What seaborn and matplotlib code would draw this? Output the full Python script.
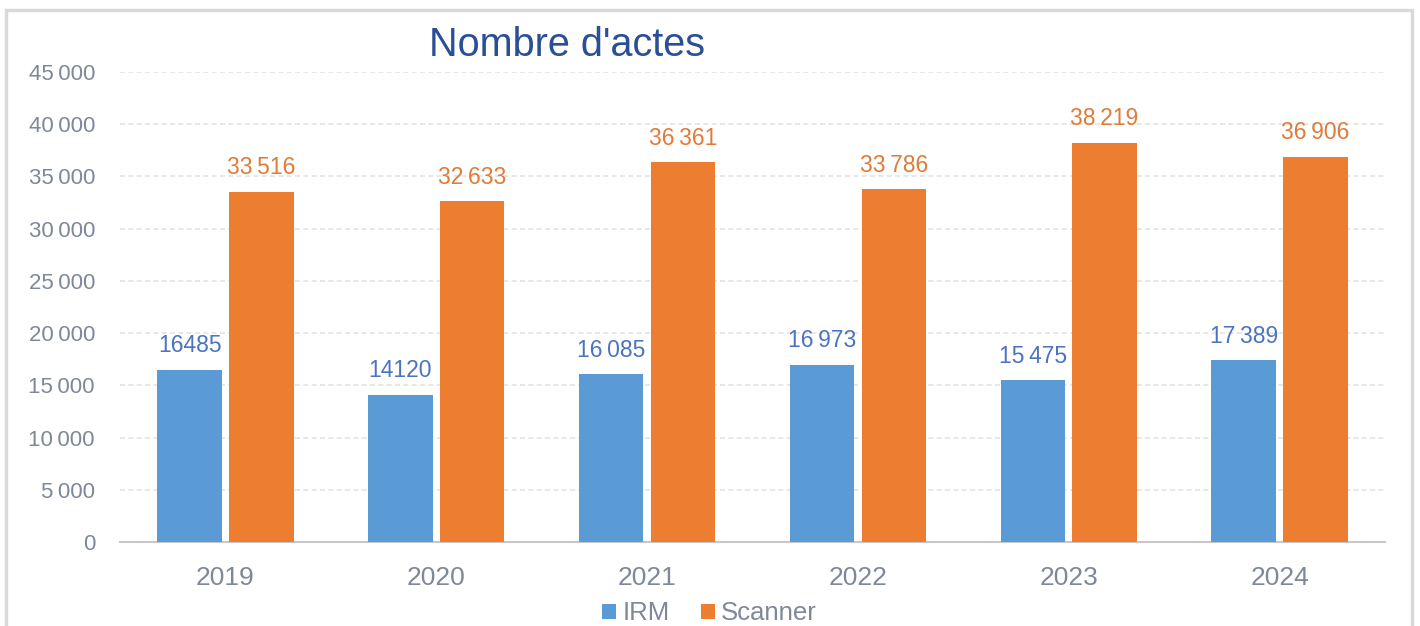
import pandas as pd
import matplotlib.pyplot as plt
import seaborn as sns
from matplotlib.patches import Rectangle

years = ["2019", "2020", "2021", "2022", "2023", "2024"]
irm = [16485, 14120, 16085, 16973, 15475, 17389]
scanner = [33516, 32633, 36361, 33786, 38219, 36906]
irm_labels = ["16485", "14120", "16\u2009085", "16\u2009973", "15\u2009475", "17\u2009389"]
scanner_labels = ["33\u2009516", "32\u2009633", "36\u2009361", "33\u2009786", "38\u2009219", "36\u2009906"]
yticks = [0, 5000, 10000, 15000, 20000, 25000, 30000, 35000, 40000, 45000]
ytick_labels = ["0", "5\u2009000", "10\u2009000", "15\u2009000", "20\u2009000", "25\u2009000",
                "30\u2009000", "35\u2009000", "40\u2009000", "45\u2009000"]

df = pd.DataFrame({
    "annee": years * 2,
    "actes": irm + scanner,
    "type": ["IRM"] * len(years) + ["Scanner"] * len(years),
})

sns.set_theme(style="white")
plt.rcParams["font.family"] = ["Liberation Sans", "DejaVu Sans"]

blue = "#5b9bd5"
orange = "#ed7d31"
tick_col = "#7f8898"

fig = plt.figure(figsize=(14.2, 6.26), dpi=100)
fig.patches.append(Rectangle((6 / 1420, -0.01), 1406 / 1420, 1 - 10 / 626 + 0.01,
                             transform=fig.transFigure, fill=False,
                             edgecolor="#d9d9d9", linewidth=2.5))
ax = fig.add_axes([120 / 1420, 1 - 542 / 626, 1265 / 1420, 470 / 626])

sns.barplot(data=df, x="annee", y="actes", hue="type", palette=[blue, orange],
            saturation=1, width=0.68, gap=0.1, linewidth=0, ax=ax, legend=True, zorder=3)

ax.set_ylim(0, 45000)
ax.set_yticks(yticks)
ax.set_yticklabels(ytick_labels)
ax.yaxis.grid(True, linestyle=(0, (3, 2)), color="#e3e3e3", linewidth=1.2, zorder=0)
ax.set_xlabel("")
ax.set_ylabel("")
for s in ["top", "right", "left"]:
    ax.spines[s].set_visible(False)
ax.spines["bottom"].set_color("#c8c8c8")
ax.spines["bottom"].set_linewidth(1.5)
ax.tick_params(axis="y", labelsize=16, colors=tick_col, length=0, pad=18)
ax.tick_params(axis="x", labelsize=19, colors=tick_col, length=0, pad=17)

ax.bar_label(ax.containers[0], labels=irm_labels, padding=9, fontsize=16.5, color="#4a74c0")
ax.bar_label(ax.containers[1], labels=scanner_labels, padding=9, fontsize=16.5, color="#e07b39")

leg = ax.legend(loc="center", bbox_to_anchor=(0.466, -0.152), ncol=2, frameon=False,
                fontsize=18.5, handlelength=0.55, handleheight=0.55, handletextpad=0.25,
                columnspacing=1.2, labelcolor=tick_col)

fig.text(567 / 1420, 1 - 45 / 626, "Nombre d'actes", ha="center", va="center",
         fontsize=28.5, color="#2a4f96")

fig.savefig("out.png", dpi=100)
